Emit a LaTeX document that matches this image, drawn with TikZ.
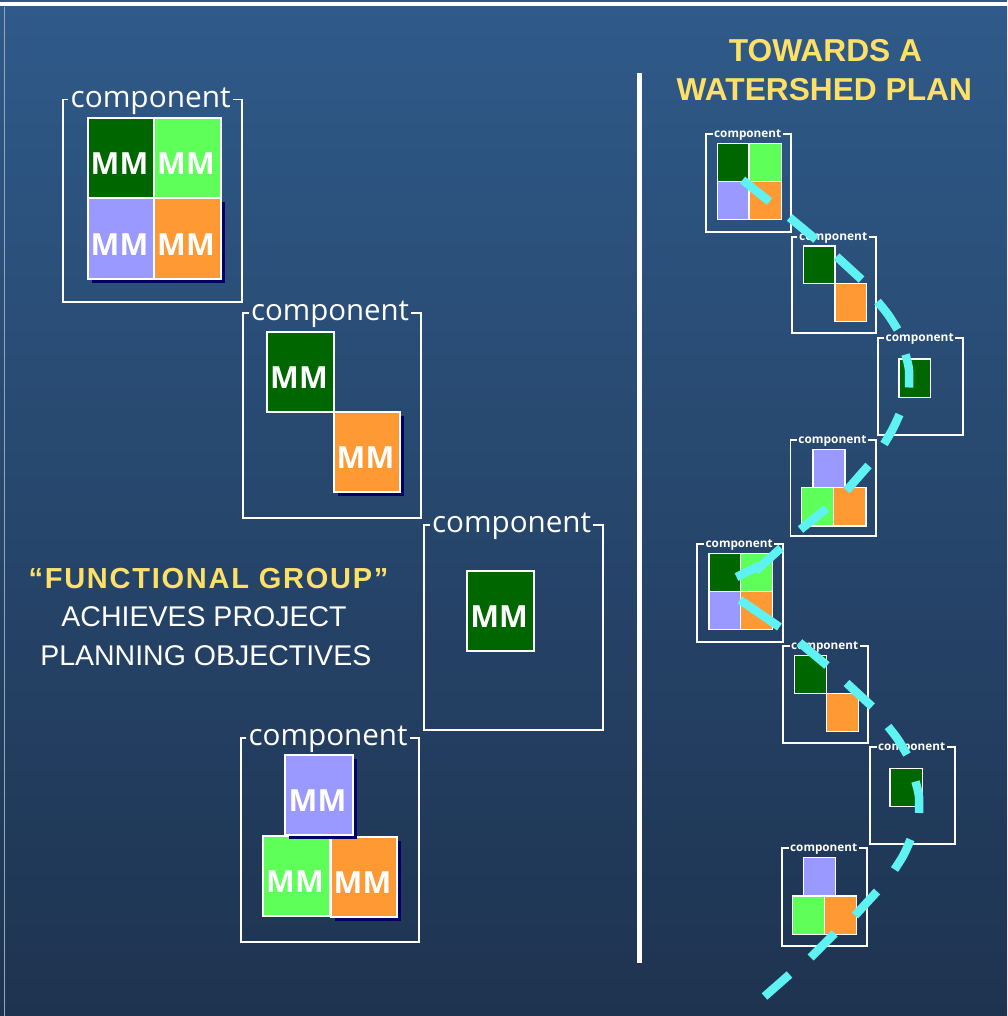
\documentclass[tikz,border=0pt]{standalone}
\usepackage{fontspec}
\usepackage{graphicx}
\setmainfont{Liberation Sans}
\newfontfamily\osans{Open Sans}
\newfontfamily\fgfont{Liberation Sans Bold}[LetterSpace=6]
\usetikzlibrary{shadows}

\definecolor{paneltop}{RGB}{47,90,137}
\definecolor{panelbot}{RGB}{30,51,80}
\definecolor{edgegrey}{RGB}{150,165,185}
\definecolor{mmdark}{RGB}{0,102,0}
\definecolor{mmlight}{RGB}{93,255,88}
\definecolor{mmlav}{RGB}{153,153,255}
\definecolor{mmorange}{RGB}{255,153,51}
\definecolor{mmshadow}{RGB}{0,0,102}
\definecolor{headyellow}{RGB}{255,224,102}
\definecolor{trail}{RGB}{95,242,242}

% component frame: name, x1, y1, x2, y2, label width, label style, frame style
\newcommand\compbox[8]{%
  \coordinate (#1-nw) at (#2,#3);
  \coordinate (#1-se) at (#4,#5);
  \node[#7, anchor=base] (#1-lbl) at ({(#2+#4)/2-0.012*#6},{#3+0.047*#6})
    {\resizebox{#6pt}{!}{component}};
  \draw[#8] (#1-lbl.west |- #1-nw) -- (#1-nw) |- (#1-se) |- (#1-lbl.east |- #1-nw);
}
% large module cell with its MM caption: name, x1, y1, x2, y2, colour, extra style
\newcommand\mmcell[7]{%
  \node[bigcell, fill=#6, minimum width={#4-#2}, minimum height={#5-#3}, #7]
    (#1) at ({(#2+#4)/2},{(#3+#5)/2}) {};
  \node[mmtext] (#1-mm) at ([xshift=-1.5pt, yshift=-6pt]#1.center) {MM};
}
% small module cell: name, x1, y1, x2, y2, colour
\newcommand\tinycell[6]{%
  \node[smallcell, fill=#6, minimum width={#4-#2}, minimum height={#5-#3}]
    (#1) at ({(#2+#4)/2},{(#3+#5)/2}) {};
}

\begin{document}
\begin{tikzpicture}[x=1pt, y=-1pt,
  frameline/.style={draw=white, line width=1.8pt},
  smallframe/.style={draw=white, line width=1.5pt},
  biglabel/.style={text=white, font=\osans, inner xsep=2pt, inner ysep=0pt},
  smalllabel/.style={text=white, font=\osans\bfseries, inner xsep=1.5pt, inner ysep=0pt},
  bigcell/.style={draw=white, line width=1.6pt, inner sep=0pt},
  smallcell/.style={draw=white, line width=1.4pt, inner sep=0pt},
  shadowed/.style={general shadow={fill=mmshadow, shadow xshift=4pt, shadow yshift=-4pt}},
  mmtext/.style={text=white, font={\osans\bfseries\fontsize{30.5}{31}\selectfont}, inner sep=0pt},
  title/.style={text=headyellow, font={\bfseries\fontsize{31.7}{38}\selectfont}, inner sep=0pt},
  plain/.style={text=white, font={\fontsize{28.5}{34}\selectfont}, inner sep=0pt},
  traildash/.style={draw=trail, line width=8.5pt}]

\useasboundingbox (0,0) rectangle (1007,1016);

% slide background
\fill[white] (0,0) rectangle (1007,1016);
\fill[paneltop] (0,0) rectangle (1007,2.5);
\shade[top color=paneltop, bottom color=panelbot] (0,7) rectangle (1007,1016);
\draw[edgegrey, line width=1.2pt] (4.6,7) -- (4.6,1016);

% divider
\coordinate (div-top) at (639.7,73);
\coordinate (div-bot) at (639.7,963);
\draw[white, line width=5.5pt] (div-top) -- (div-bot);

% headings
\node[title, anchor=base] (ttl1) at (825.4,61.7) {TOWARDS A};
\node[title, anchor=base] (ttl2) at (824.3,101) {WATERSHED PLAN};

\node[anchor=base, inner sep=0pt, text=headyellow, font={\fgfont\fontsize{29}{34}\selectfont}]
  (fg1) at (208.5,588) {“FUNCTIONAL GROUP”};
\node[plain, anchor=base] (fg2) at (204,626) {ACHIEVES PROJECT};
\node[plain, anchor=base] (fg3) at (205.8,665) {PLANNING OBJECTIVES};

% functional group: large components
\compbox{c1}{63}{99.5}{242}{302}{160}{biglabel}{frameline}
\mmcell{c1a}{88}{118}{154}{198}{mmdark}{}
\mmcell{c1b}{154}{118}{221}{198}{mmlight}{}
\mmcell{c1c}{88}{198}{154}{279}{mmlav}{shadowed}
\mmcell{c1d}{154}{198}{221}{279}{mmorange}{shadowed}

\compbox{c2}{243}{313}{421}{518}{158}{biglabel}{frameline}
\mmcell{c2a}{267}{332}{334}{412}{mmdark}{}
\mmcell{c2b}{334}{412}{400}{492}{mmorange}{shadowed}

\compbox{c3}{424}{525}{603}{730}{159}{biglabel}{frameline}
\mmcell{c3a}{467}{571}{534}{651}{mmdark}{}

\compbox{c4}{241}{738}{419}{942}{159}{biglabel}{frameline}
\mmcell{c4b}{263}{836}{330}{916}{mmlight}{}
\mmcell{c4c}{331}{837}{397}{917}{mmorange}{shadowed}
\mmcell{c4a}{285}{755}{353}{835}{mmlav}{shadowed}

% watershed plan: small components
\compbox{r1}{706}{134}{791}{232}{67}{smalllabel}{smallframe}
\tinycell{r1a}{717.7}{143.3}{749}{181.7}{mmdark}
\tinycell{r1b}{749}{143.3}{781.7}{181.7}{mmlight}
\tinycell{r1c}{717.7}{181.7}{749}{219.3}{mmlav}
\tinycell{r1d}{749}{181.7}{781.7}{219.3}{mmorange}

\compbox{r2}{792}{237}{876}{333}{68}{smalllabel}{smallframe}
\tinycell{r2a}{803.3}{246}{835}{283.3}{mmdark}
\tinycell{r2b}{835}{283.3}{866.7}{321.7}{mmorange}

\compbox{r3}{878}{338}{963}{435}{68}{smalllabel}{smallframe}
\tinycell{r3a}{899}{359}{930.7}{397.3}{mmdark}

\compbox{r4}{790.5}{440}{876}{536}{68}{smalllabel}{smallframe}
\tinycell{r4b}{801.6}{487.7}{833.6}{526}{mmlight}
\tinycell{r4c}{833.6}{487.7}{866}{526}{mmorange}
\tinycell{r4a}{813}{449.4}{845}{487.7}{mmlav}

\compbox{r5}{697}{544}{783}{642}{67}{smalllabel}{smallframe}
\tinycell{r5a}{709}{553.3}{740.7}{591.7}{mmdark}
\tinycell{r5b}{740.7}{553.3}{772.7}{591.7}{mmlight}
\tinycell{r5c}{709}{591.7}{740.7}{629.3}{mmlav}
\tinycell{r5d}{740.7}{591.7}{772.7}{629.3}{mmorange}

\compbox{r6}{783}{646}{868}{743}{67}{smalllabel}{smallframe}
\tinycell{r6a}{794.3}{655.3}{826.7}{693.3}{mmdark}
\tinycell{r6b}{826.7}{693.3}{858.3}{731.7}{mmorange}

\compbox{r7}{870}{747}{955}{844}{67}{smalllabel}{smallframe}
\tinycell{r7a}{890}{768.3}{922.3}{806.7}{mmdark}

\compbox{r8}{782}{848}{867}{946}{67}{smalllabel}{smallframe}
\tinycell{r8b}{792.3}{896}{824.3}{934.3}{mmlight}
\tinycell{r8c}{824.3}{896}{856.7}{934.3}{mmorange}
\tinycell{r8a}{803.7}{857.7}{835.7}{896}{mmlav}

% dashed trail winding through the plan, one stroke per dash
\draw[traildash] (742.5,180) -- (769.5,201.5);
\draw[traildash] (789.5,217.5) -- (816,239.5);
\draw[traildash] (836.5,256.5) -- (861.5,279.5);
\draw[traildash] (877.5,301.5) .. controls (888,314) .. (897.5,329.5);
\draw[traildash] (905.5,354.5) .. controls (909.5,369) .. (909,387.5);
\draw[traildash] (899.5,414.5) .. controls (893,429) .. (884,444);
\draw[traildash] (868.5,465.5) -- (846.5,490.5);
\draw[traildash] (826.5,508.5) -- (800.5,529.5);
\draw[traildash] (781,548) -- (755.5,571);
\draw[traildash] (759,566) -- (736.5,577);
\draw[traildash] (740,600) -- (779.5,627);
\draw[traildash] (799.5,642.5) -- (827,665.5);
\draw[traildash] (846.5,683) -- (872,706.5);
\draw[traildash] (888,726.5) .. controls (898,739) .. (907,754.5);
\draw[traildash] (915.5,781.5) .. controls (919.5,796) .. (919,813);
\draw[traildash] (910.5,839.5) .. controls (904,855) .. (894.5,869.5);
\draw[traildash] (877,891.5) -- (855,915.5);
\draw[traildash] (834.5,933.5) -- (810.5,957.5);
\draw[traildash] (789.5,974.5) -- (764.5,996.5);

\end{tikzpicture}
\end{document}
